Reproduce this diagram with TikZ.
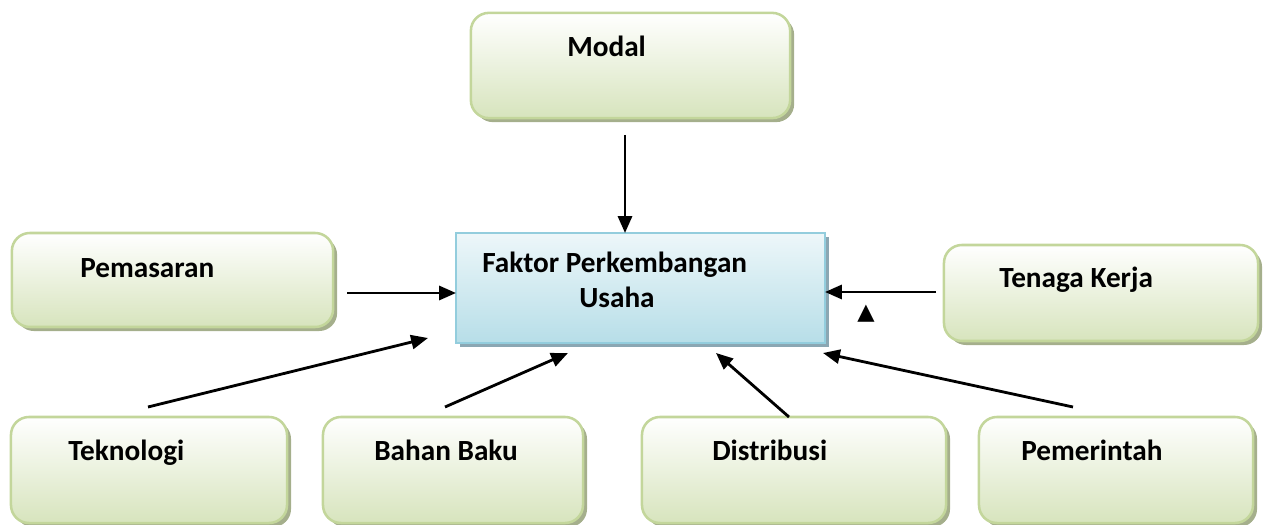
\documentclass[tikz,border=0pt]{standalone}
\usepackage{fontspec}
\setmainfont{Carlito}
\newfontfamily\symfont{DejaVu Sans}
\usetikzlibrary{arrows.meta}
\usetikzlibrary{shadows}

\definecolor{boxline}{HTML}{C3D69B}
\definecolor{boxfill}{HTML}{D7E4BD}
\definecolor{boxshade}{HTML}{A5AF8C}
\definecolor{hubline}{HTML}{93CDDD}
\definecolor{hubfill}{HTML}{B7DEE8}
\definecolor{hubshade}{HTML}{8BA7B3}

\tikzset{
  box/.style={draw=boxline, line width=1.8pt, rounded corners=0.45cm,
    top color=white, bottom color=boxfill, minimum height=2.65cm,
    drop shadow={shadow xshift=0.1cm, shadow yshift=-0.1cm,
      fill=boxshade, opacity=1}},
  hub/.style={draw=hubline, line width=1.8pt,
    top color=hubfill!25, bottom color=hubfill,
    drop shadow={shadow xshift=0.1cm, shadow yshift=-0.1cm,
      fill=hubshade, opacity=1}},
  lbl/.style={anchor=base west, inner sep=0pt,
    font=\fontsize{20.8}{24}\selectfont\bfseries},
  arr/.style={line width=2pt, -{Triangle[length=12pt,width=10pt]}}
}

\begin{document}
\begin{tikzpicture}[x=0.025cm, y=-0.025cm]
 \useasboundingbox (0,0) rectangle (1268,525);

 % boxes
 \node[box, minimum width=7.98cm, minimum height=2.63cm] (modal) at (630.5,65.5) {};
 \node[hub, minimum width=9.23cm, minimum height=2.75cm] (faktor) at (640.5,288) {};
 \node[box, minimum width=8.03cm, minimum height=2.35cm] (pemasaran) at (172.5,280) {};
 \node[box, minimum width=7.85cm, minimum height=2.4cm] (tenaga) at (1101,293) {};
 \node[box, minimum width=6.9cm] (teknologi) at (149,470) {};
 \node[box, minimum width=6.5cm] (bahan) at (453,470) {};
 \node[box, minimum width=7.6cm] (distribusi) at (794,470) {};
 \node[box, minimum width=6.85cm] (pemerintah) at (1116,470) {};

 % texts
 \node[lbl] (tmodal) at (567,57) {Modal};
 \node[lbl] (tfaktor) at (482,272) {Faktor Perkembangan};
 \node[lbl] (tusaha) at (579,307) {Usaha};
 \node[lbl] (tpemasaran) at (80,277) {Pemasaran};
 \node[lbl] (ttenaga) at (999,287) {Tenaga Kerja};
 \node[lbl] (tteknologi) at (68,460) {Teknologi};
 \node[lbl] (tbahan) at (374,460) {Bahan Baku};
 \node[lbl] (tdistribusi) at (712,460) {Distribusi};
 \node[lbl] (tpemerintah) at (1021,460) {Pemerintah};
 \node[inner sep=0pt, font=\symfont\fontsize{16}{16}\selectfont] (mark) at (866,314) {▲};

 % arrow ends
 \coordinate (a1) at (625,135);   \coordinate (b1) at (625,233);
 \coordinate (a2) at (347,293);   \coordinate (b2) at (456,293);
 \coordinate (a3) at (936,292);   \coordinate (b3) at (825,292);
 \coordinate (a4) at (148,407);   \coordinate (b4) at (428,338);
 \coordinate (a5) at (445,407);   \coordinate (b5) at (568,353);
 \coordinate (a6) at (789,417);   \coordinate (b6) at (716,353);
 \coordinate (a7) at (1073,407);  \coordinate (b7) at (823,353);

 \foreach \i in {1,...,7}
   \draw[arr] (a\i) -- (b\i);
\end{tikzpicture}
\end{document}
